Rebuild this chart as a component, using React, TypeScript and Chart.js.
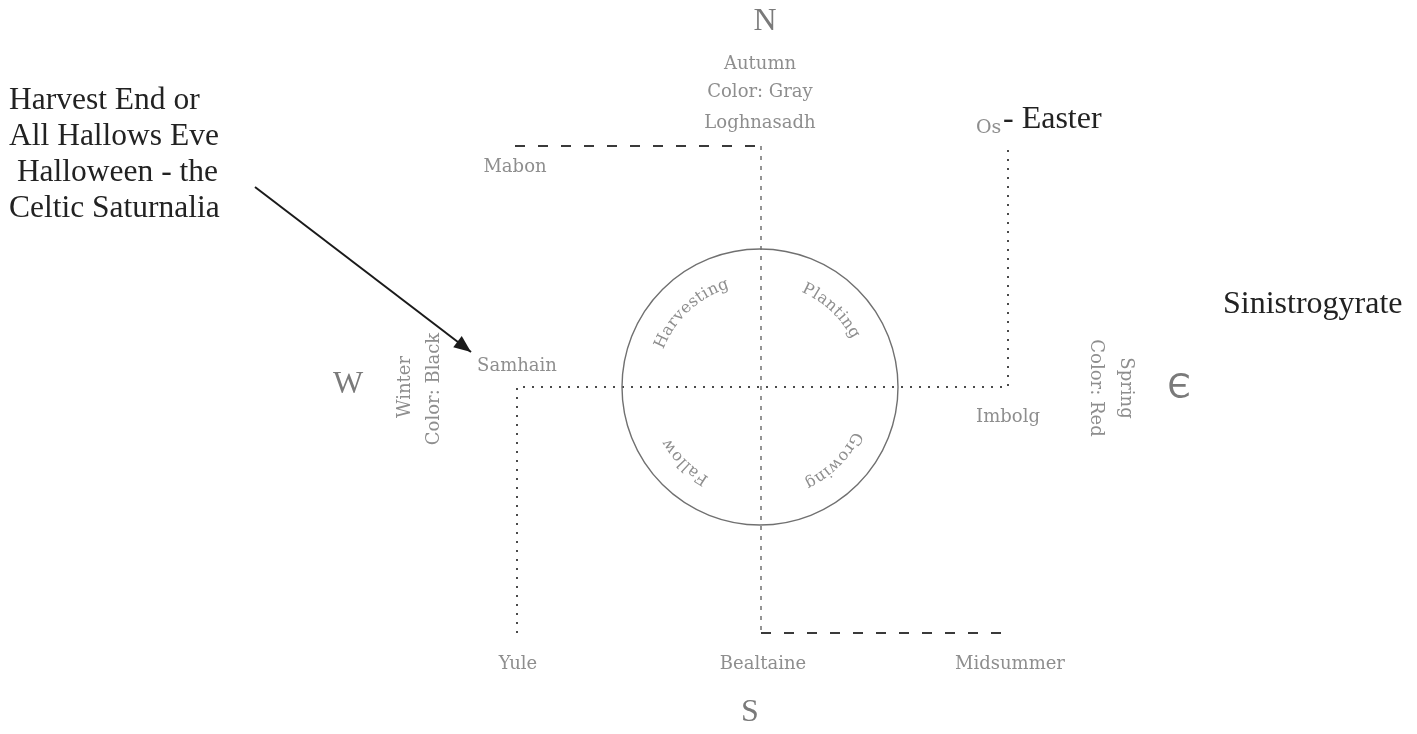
import { useEffect, useRef } from "react";
import { Chart, registerables } from "chart.js";

Chart.register(...registerables);

// Diagram coordinate system (x to the right, y downwards)
const X_MIN = 0;
const X_MAX = 1417;
const Y_MIN = 0;
const Y_MAX = 734;

// Dotted path: Yule -> Samhain -> Imbolg -> Os
const dottedPathX = [517, 517, 1008, 1008];
const dottedPathY = [633, 387, 387, 146];

// Dashed paths: Mabon -> Loghnasadh, Loghnasadh -> Bealtaine, Bealtaine -> Midsummer
const topDashX = [515, 761];
const topDashY = [146, 146];
const axisNSX = [761, 761];
const axisNSY = [146, 633];
const bottomDashX = [761, 1008];
const bottomDashY = [633, 633];

// Arrow from the note to Samhain
const arrowX = [255, 471];
const arrowY = [187, 352];

// Circle of the year
const circleCenterX = 760;
const circleCenterY = 387;
const circleRadius = 138;

// Labels inside the circle (clockwise, centre angle in degrees from east, y down)
const arcLabels = ["Harvesting", "Planting", "Growing", "Fallow"];
const arcAngles = [227, 313, 45, 135];
const arcRadius = 108;

// Festival / season labels (grey)
const grayLabels = ["Autumn", "Color: Gray", "Loghnasadh", "Mabon", "Samhain", "Imbolg", "Yule", "Bealtaine", "Midsummer"];
const grayLabelX = [760, 760, 760, 515, 517, 1008, 518, 763, 1010];
const grayLabelY = [64, 92, 123, 167, 366, 417, 664, 664, 664];

// Compass letters
const compassLabels = ["N", "S", "W"];
const compassX = [765, 750, 348];
const compassY = [22, 713, 385];
const eastLetter = "Є";
const eastLetterX = 1179;
const eastLetterY = 389;

// Rotated season labels
const westLabels = ["Winter", "Color: Black"];
const westX = [405, 434];
const westY = [387, 389];
const eastLabels = ["Spring", "Color: Red"];
const eastX = [1126, 1096];
const eastY = [388, 388];

// Black notes
const noteLines = ["Harvest End or", "All Hallows Eve", " Halloween - the", "Celtic Saturnalia"];
const noteX = 9;
const noteBaselines = [109, 145, 181, 217];
const osLabel = "Os";
const osX = 976;
const osY = 133;
const easterLabel = "- Easter";
const easterX = 1003;
const easterY = 128;
const sideNote = "Sinistrogyrate";
const sideNoteX = 1223;
const sideNoteY = 313;

const GRAY_TEXT = "#8e8e8e";
const SERIF_GRAY = "'DejaVu Serif', serif";
const SERIF_BLACK = "'Liberation Serif', 'Times New Roman', serif";

const toPoints = (xs: number[], ys: number[]) => xs.map((v, i) => ({ x: v, y: ys[i] }));

const diagramPlugin = {
  id: "diagram",
  afterDatasetsDraw(chart: any) {
    const { ctx } = chart;
    const xs = chart.scales.x;
    const ys = chart.scales.y;
    const px = (v: number) => xs.getPixelForValue(v);
    const py = (v: number) => ys.getPixelForValue(v);
    ctx.save();

    // circle
    const cx = px(circleCenterX);
    const cy = py(circleCenterY);
    const r = px(circleCenterX + circleRadius) - cx;
    ctx.beginPath();
    ctx.arc(cx, cy, r, 0, Math.PI * 2);
    ctx.strokeStyle = "#707070";
    ctx.lineWidth = 1.4;
    ctx.stroke();

    // arc labels
    const ar = px(circleCenterX + arcRadius) - cx;
    ctx.font = `16px ${SERIF_GRAY}`;
    ctx.fillStyle = GRAY_TEXT;
    ctx.textAlign = "center";
    ctx.textBaseline = "middle";
    arcLabels.forEach((label, i) => {
      const chars = label.split("");
      const widths = chars.map((c) => ctx.measureText(c).width + 0.8);
      const total = widths.reduce((a, b) => a + b, 0);
      const center = (arcAngles[i] * Math.PI) / 180;
      let acc = 0;
      chars.forEach((c, k) => {
        const a = center + (acc + widths[k] / 2 - total / 2) / ar;
        acc += widths[k];
        ctx.save();
        ctx.translate(cx + ar * Math.cos(a), cy + ar * Math.sin(a));
        ctx.rotate(a + Math.PI / 2);
        ctx.fillText(c, 0, 0);
        ctx.restore();
      });
    });

    // arrow head
    const x0 = px(arrowX[0]);
    const y0 = py(arrowY[0]);
    const x1 = px(arrowX[1]);
    const y1 = py(arrowY[1]);
    const ang = Math.atan2(y1 - y0, x1 - x0);
    const len = 17;
    const half = 7;
    ctx.beginPath();
    ctx.moveTo(x1, y1);
    ctx.lineTo(x1 - len * Math.cos(ang) + half * Math.sin(ang), y1 - len * Math.sin(ang) - half * Math.cos(ang));
    ctx.lineTo(x1 - len * Math.cos(ang) - half * Math.sin(ang), y1 - len * Math.sin(ang) + half * Math.cos(ang));
    ctx.closePath();
    ctx.fillStyle = "#1a1a1a";
    ctx.fill();

    // grey labels
    ctx.font = `18px ${SERIF_GRAY}`;
    ctx.fillStyle = GRAY_TEXT;
    ctx.textAlign = "center";
    ctx.textBaseline = "middle";
    grayLabels.forEach((t, i) => ctx.fillText(t, px(grayLabelX[i]), py(grayLabelY[i])));

    // compass letters
    ctx.font = `32px ${SERIF_BLACK}`;
    ctx.fillStyle = "#7a7a7a";
    compassLabels.forEach((t, i) => ctx.fillText(t, px(compassX[i]), py(compassY[i])));
    ctx.font = "33px 'DejaVu Sans', sans-serif";
    ctx.fillText(eastLetter, px(eastLetterX), py(eastLetterY));

    // rotated labels
    ctx.font = `18px ${SERIF_GRAY}`;
    ctx.fillStyle = GRAY_TEXT;
    westLabels.forEach((t, i) => {
      ctx.save();
      ctx.translate(px(westX[i]), py(westY[i]));
      ctx.rotate(-Math.PI / 2);
      ctx.fillText(t, 0, 0);
      ctx.restore();
    });
    eastLabels.forEach((t, i) => {
      ctx.save();
      ctx.translate(px(eastX[i]), py(eastY[i]));
      ctx.rotate(Math.PI / 2);
      ctx.fillText(t, 0, 0);
      ctx.restore();
    });

    // Os
    ctx.textAlign = "left";
    ctx.textBaseline = "alphabetic";
    ctx.font = `19px ${SERIF_GRAY}`;
    ctx.fillText(osLabel, px(osX), py(osY));

    // black notes
    ctx.fillStyle = "#222222";
    ctx.font = `31.5px ${SERIF_BLACK}`;
    noteLines.forEach((t, i) => ctx.fillText(t, px(noteX), py(noteBaselines[i])));
    ctx.font = `32px ${SERIF_BLACK}`;
    ctx.fillText(easterLabel, px(easterX), py(easterY));
    ctx.font = `32px ${SERIF_BLACK}`;
    ctx.fillText(sideNote, px(sideNoteX), py(sideNoteY));

    ctx.restore();
  },
};

export default function App() {
  const canvasRef = useRef<HTMLCanvasElement | null>(null);

  useEffect(() => {
    if (!canvasRef.current) return;
    const lineBase = { showLine: true, pointRadius: 0, fill: false, tension: 0 };
    const chart = new Chart(canvasRef.current, {
      type: "scatter",
      data: {
        datasets: [
          {
            ...lineBase,
            label: "Year path (dotted)",
            data: toPoints(dottedPathX, dottedPathY),
            borderColor: "#4a4a4a",
            borderWidth: 2,
            borderDash: [2, 7],
          },
          {
            ...lineBase,
            label: "North-south axis",
            data: toPoints(axisNSX, axisNSY),
            borderColor: "#7a7a7a",
            borderWidth: 1.6,
            borderDash: [4, 6],
          },
          {
            ...lineBase,
            label: "Top dashed",
            data: toPoints(topDashX, topDashY),
            borderColor: "#3a3a3a",
            borderWidth: 2,
            borderDash: [10, 13],
          },
          {
            ...lineBase,
            label: "Bottom dashed",
            data: toPoints(bottomDashX, bottomDashY),
            borderColor: "#3a3a3a",
            borderWidth: 2,
            borderDash: [10, 13],
          },
          {
            ...lineBase,
            label: "Arrow",
            data: toPoints(arrowX, arrowY),
            borderColor: "#1a1a1a",
            borderWidth: 2,
          },
        ],
      },
      options: {
        animation: false,
        responsive: true,
        maintainAspectRatio: false,
        events: [],
        layout: { padding: 0 },
        plugins: { legend: { display: false }, tooltip: { enabled: false }, title: { display: false } },
        scales: {
          x: { type: "linear", min: X_MIN, max: X_MAX, display: false },
          y: { type: "linear", min: Y_MIN, max: Y_MAX, reverse: true, display: false },
        },
      },
      plugins: [diagramPlugin],
    } as any);
    return () => chart.destroy();
  }, []);

  return (
    <div style={{ position: "fixed", left: 0, top: 0, width: 1417, height: 734, background: "#ffffff" }}>
      <canvas ref={canvasRef} />
    </div>
  );
}
